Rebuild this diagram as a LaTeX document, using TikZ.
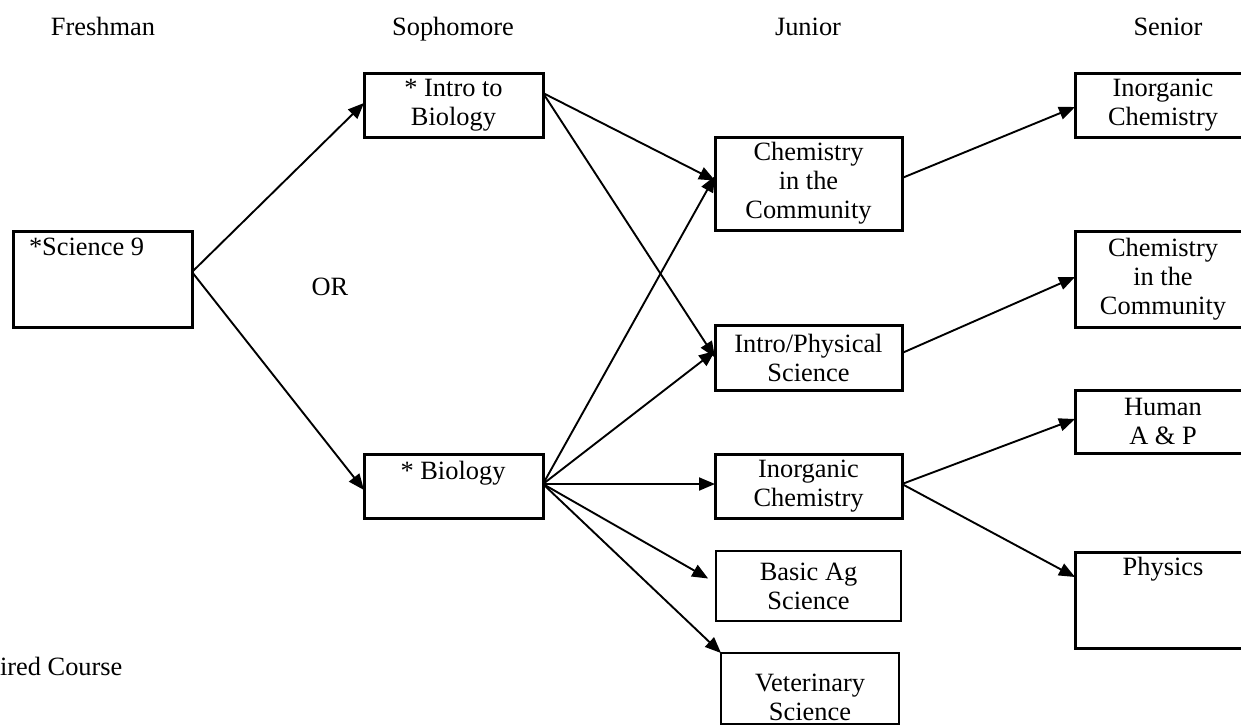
\documentclass[tikz,border=0pt]{standalone}
\usepackage{fontspec}
\setmainfont{Liberation Serif}
\usetikzlibrary{arrows.meta}
\tikzset{
  txt/.style={font=\fontsize{13.2}{14.5}\selectfont, inner sep=0pt, outer sep=0pt, align=center},
  boxc/.style={txt, draw, line width=1.5pt},
  thinbox/.style={txt, draw, line width=0.8pt},
  arr/.style={line width=0.95pt, -{Triangle[length=8pt,width=6.5pt]}},
}
\begin{document}
\begin{tikzpicture}[x=0.5pt,y=-0.5pt]
\useasboundingbox (0,0) rectangle (1241,725);
\clip (0,0) rectangle (1241,725);
% headings
\node[txt, anchor=base] (hfr) at (103,35) {Freshman};
\node[txt, anchor=base] (hso) at (453,35) {Sophomore};
\node[txt, anchor=base] (hju) at (808,35) {Junior};
\node[txt, anchor=base] (hse) at (1168,35) {Senior};
\node[txt] (or) at (330,287) {OR};
\node[txt, anchor=base west] (req) at (0,675) {ired Course};
% freshman
\node[boxc, minimum width=89.5pt, minimum height=48pt] (sci9) at (102.5,279) {};
\node[txt, anchor=base west] (sci9t) at (29,255) {*Science 9};
% sophomore
\node[boxc, minimum width=89.5pt, minimum height=32pt] (introbio) at (453.5,105) {* Intro to\\Biology};
\node[boxc, minimum width=89.5pt, minimum height=32pt] (bio) at (453.5,486) {};
\node[txt, anchor=base] (biot) at (453,479) {* Biology};
% junior
\node[boxc, minimum width=93.5pt, minimum height=46.5pt] (chemj) at (808.5,183.5) {Chemistry\\in the\\Community};
\node[boxc, minimum width=93.5pt, minimum height=32.5pt] (physj) at (808.5,357.5) {Intro/Physical\\Science};
\node[boxc, minimum width=93.5pt, minimum height=32pt] (inorgj) at (808.5,486) {Inorganic\\Chemistry};
\node[thinbox, minimum width=92.5pt, minimum height=35pt] (agj) at (808.5,586) {Basic Ag\\Science};
\node[thinbox, minimum width=89pt, minimum height=35.5pt] (vetj) at (810,688.5) {};
\node[txt] (vett) at (810,697) {Veterinary\\Science};
% senior
\node[boxc, minimum width=88pt, minimum height=32pt] (inorgs) at (1163,105) {Inorganic\\Chemistry};
\node[boxc, minimum width=88pt, minimum height=48pt] (chems) at (1163,279) {Chemistry\\in the\\Community};
\node[boxc, minimum width=88pt, minimum height=31.5pt] (humans) at (1163,421.5) {Human\\A \& P};
\node[boxc, minimum width=88pt, minimum height=48pt] (physics) at (1163,600) {};
\node[txt, anchor=base] (physt) at (1163,575) {Physics};
% connectors
\draw[arr] ([yshift=3.5pt]sci9.east) -- ([yshift=1pt]introbio.west);
\draw[arr] ([yshift=3.5pt]sci9.east) -- ([yshift=-2pt]bio.west);
\draw[arr] ([yshift=6pt]introbio.east) -- ([yshift=1.5pt]chemj.west);
\draw[arr] ([yshift=6pt]introbio.east) -- ([yshift=0pt]physj.west);
\draw[arr] ([yshift=1pt]bio.east) -- ([yshift=3.75pt]chemj.west);
\draw[arr] ([yshift=1pt]bio.east) -- ([yshift=3.25pt]physj.west);
\draw[arr] ([yshift=1pt]bio.east) -- ([yshift=1pt]inorgj.west);
\draw[arr, shorten >=4.5pt] ([yshift=1pt]bio.east) -- ([yshift=1.5pt]agj.west);
\draw[arr] ([yshift=1pt]bio.east) -- (vetj.north west);
\draw[arr] ([yshift=2.75pt]chemj.east) -- ([yshift=-1pt]inorgs.west);
\draw[arr] ([yshift=2.25pt]physj.east) -- ([yshift=1pt]chems.west);
\draw[arr] ([yshift=1pt]inorgj.east) -- ([yshift=1.25pt]humans.west);
\draw[arr] ([yshift=1pt]inorgj.east) -- ([yshift=11.5pt]physics.west);
\end{tikzpicture}
\end{document}
